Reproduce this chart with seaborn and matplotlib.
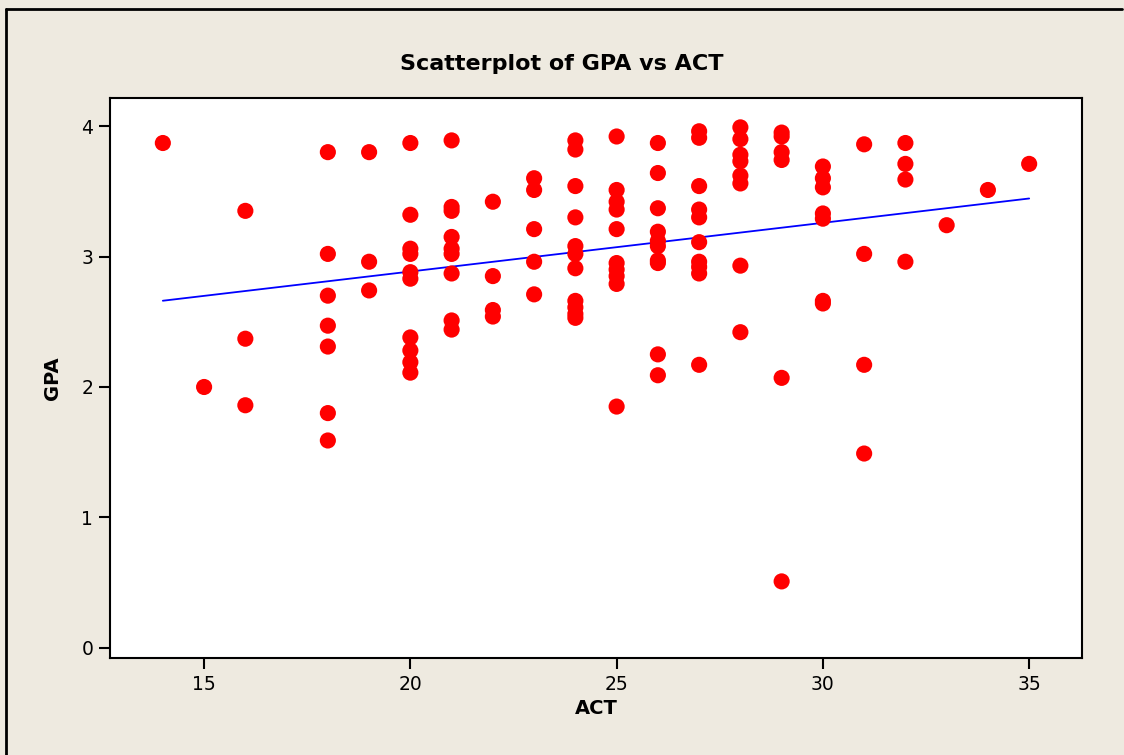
import numpy as np
import pandas as pd
import matplotlib
matplotlib.use("Agg")
import matplotlib.pyplot as plt
import seaborn as sns
from matplotlib.lines import Line2D

# ACT scores, one entry per student
act = [14,
       15,
       16, 16, 16,
       18, 18, 18, 18, 18, 18, 18,
       19, 19, 19,
       20, 20, 20, 20, 20, 20, 20, 20, 20, 20,
       21, 21, 21, 21, 21, 21, 21, 21, 21,
       22, 22, 22, 22,
       23, 23, 23, 23, 23,
       24, 24, 24, 24, 24, 24, 24, 24, 24, 24, 24,
       25, 25, 25, 25, 25, 25, 25, 25, 25, 25,
       26, 26, 26, 26, 26, 26, 26, 26, 26, 26,
       27, 27, 27, 27, 27, 27, 27, 27, 27, 27,
       28, 28, 28, 28, 28, 28, 28, 28,
       29, 29, 29, 29, 29, 29,
       30, 30, 30, 30, 30, 30, 30,
       31, 31, 31, 31,
       32, 32, 32, 32,
       33,
       34,
       35]

# GPA values in the same order
gpa = [3.87,
       2.00,
       3.35, 2.37, 1.86,
       3.80, 3.02, 2.70, 2.47, 2.31, 1.80, 1.59,
       3.80, 2.96, 2.74,
       3.87, 3.32, 3.06, 3.02, 2.88, 2.83, 2.38, 2.28, 2.19, 2.11,
       3.89, 3.38, 3.35, 3.15, 3.06, 3.02, 2.87, 2.51, 2.44,
       3.42, 2.85, 2.59, 2.54,
       3.60, 3.51, 3.21, 2.96, 2.71,
       3.89, 3.82, 3.54, 3.30, 3.08, 3.02, 2.91, 2.66, 2.61, 2.56, 2.53,
       3.92, 3.51, 3.42, 3.36, 3.21, 2.95, 2.90, 2.85, 2.79, 1.85,
       3.87, 3.64, 3.37, 3.19, 3.12, 3.08, 2.97, 2.95, 2.25, 2.09,
       3.96, 3.91, 3.54, 3.36, 3.30, 3.11, 2.96, 2.92, 2.87, 2.17,
       3.99, 3.90, 3.78, 3.73, 3.62, 3.56, 2.93, 2.42,
       3.95, 3.92, 3.80, 3.74, 2.07, 0.51,
       3.69, 3.60, 3.53, 3.33, 3.29, 2.66, 2.64,
       3.86, 3.02, 2.17, 1.49,
       3.87, 3.71, 3.59, 2.96,
       3.24,
       3.51,
       3.71]

x_ticks = [15, 20, 25, 30, 35]
y_ticks = [0, 1, 2, 3, 4]

df = pd.DataFrame({"ACT": act, "GPA": gpa})

sns.set_style("white")
plt.rcParams["font.family"] = ["DejaVu Sans"]
plt.rcParams["text.color"] = "black"
plt.rcParams["axes.labelcolor"] = "black"
plt.rcParams["xtick.color"] = "black"
plt.rcParams["ytick.color"] = "black"

bg = "#EEEAE0"
fig = plt.figure(figsize=(11.24, 7.55), dpi=100, facecolor=bg)
ax = fig.add_axes([0.0979, 0.1285, 0.8647, 0.7417])
ax.set_facecolor("white")

sns.regplot(data=df, x="ACT", y="GPA", ax=ax, ci=None,
            scatter_kws=dict(s=135, color="#FF0000", edgecolor="none", alpha=1, zorder=3),
            line_kws=dict(color="#0000FF", lw=1.3, zorder=2))

ax.set_xlim(12.72, 36.28)
ax.set_ylim(-0.077, 4.215)
ax.set_xticks(x_ticks)
ax.set_yticks(y_ticks)
ax.tick_params(axis="both", direction="out", length=8, width=1.5, color="black",
               labelcolor="black", labelsize=13.5, pad=4, bottom=True, left=True)

for sp in ax.spines.values():
    sp.set_visible(True)
    sp.set_color("black")
    sp.set_linewidth(1.5)

ax.set_xlabel("ACT", fontsize=14, fontweight="bold", labelpad=4, color="black")
ax.set_ylabel("GPA", fontsize=14, fontweight="bold", labelpad=14, color="black")
fig.text(0.5, 0.915, "Scatterplot of GPA vs ACT", ha="center", va="center",
         fontsize=16, fontweight="bold", color="black")

# outer frame lines (top and left)
fig.add_artist(Line2D([6 / 1124, 1122 / 1124], [1 - 9 / 755, 1 - 9 / 755],
                      transform=fig.transFigure, color="black", lw=2))
fig.add_artist(Line2D([6 / 1124, 6 / 1124], [1 - 9 / 755, 0],
                      transform=fig.transFigure, color="black", lw=2))

fig.savefig("out.png", dpi=100, facecolor=bg)
